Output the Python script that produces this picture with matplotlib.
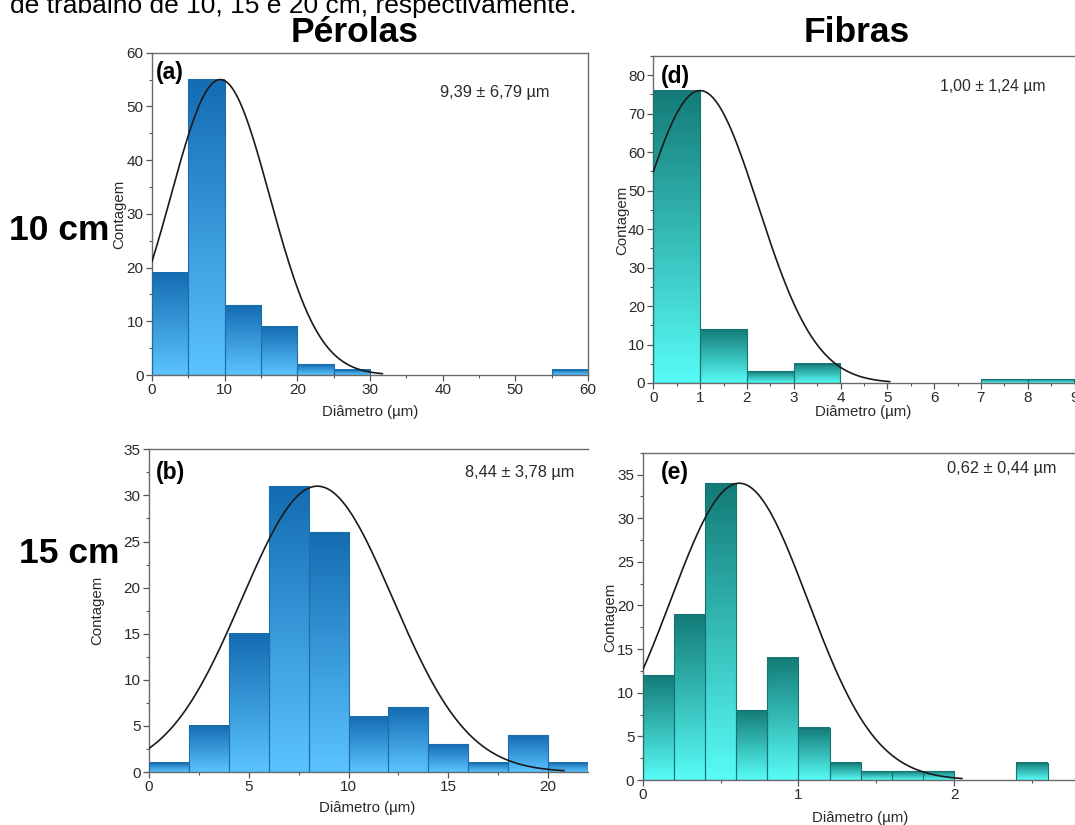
import numpy as np
import matplotlib
matplotlib.use("Agg")
import matplotlib.pyplot as plt
from matplotlib.ticker import MultipleLocator
from matplotlib.colors import to_rgb

plt.rcParams['font.family'] = ['Liberation Sans', 'DejaVu Sans']

W, H = 1075, 825

# ---------------- data ----------------
# (a) Pérolas 10 cm
a_bin_left = [0, 5, 10, 15, 20, 25, 30, 35, 40, 45, 50, 55]
a_counts = [19, 55, 13, 9, 2, 1, 0, 0, 0, 0, 0, 1]
a_width = 5
a_mean, a_sd, a_peak, a_curve_end = 9.39, 6.79, 55, 31.7
a_text = "9,39 ± 6,79 µm"

# (d) Fibras 10 cm
d_bin_left = [0, 1, 2, 3, 4, 5, 6, 7, 8]
d_counts = [76, 14, 3, 5, 0, 0, 0, 1, 1]
d_width = 1
d_mean, d_sd, d_peak, d_curve_end = 1.00, 1.24, 76, 5.05
d_text = "1,00 ± 1,24 µm"

# (b) Pérolas 15 cm
b_bin_left = [0, 2, 4, 6, 8, 10, 12, 14, 16, 18, 20]
b_counts = [1, 5, 15, 31, 26, 6, 7, 3, 1, 4, 1]
b_width = 2
b_mean, b_sd, b_peak, b_curve_end = 8.44, 3.78, 31, 20.8
b_text = "8,44 ± 3,78 µm"

# (e) Fibras 15 cm
e_bin_left = [0.0, 0.2, 0.4, 0.6, 0.8, 1.0, 1.2, 1.4, 1.6, 1.8, 2.0, 2.2, 2.4]
e_counts = [12, 19, 34, 8, 14, 6, 2, 1, 1, 1, 0, 0, 2]
e_width = 0.2
e_mean, e_sd, e_peak, e_curve_end = 0.62, 0.44, 34, 2.05
e_text = "0,62 ± 0,44 µm"

BLUE_TOP, BLUE_BOTTOM, BLUE_EDGE = "#146cb2", "#5bc4ff", "#1d6ea8"
TEAL_TOP, TEAL_BOTTOM, TEAL_EDGE = "#137b77", "#58fcf7", "#16736f"

fig = plt.figure(figsize=(W / 100, H / 100), dpi=100)


def px_ax(x0, y0, x1, y1):
    """axes from pixel box (top-left origin)"""
    return fig.add_axes([x0 / W, 1 - y1 / H, (x1 - x0) / W, (y1 - y0) / H])


def ftext(x, y, s, **kw):
    fig.text(x / W, 1 - y / H, s, **kw)


def draw_panel(ax, lefts, counts, width, top, bottom, edge, mean, sd, peak, cend,
               xlim, ylim, xmaj, xmin, ymaj, ymin, hide_right=False):
    t = np.linspace(0, 1, 256)[:, None]
    ct, cb = np.array(to_rgb(top)), np.array(to_rgb(bottom))
    grad = ct[None, :] * (1 - t) + cb[None, :] * t
    grad = grad[:, None, :]
    for x0, c in zip(lefts, counts):
        if c <= 0:
            continue
        ax.imshow(grad, extent=(x0, x0 + width, 0, c), origin='upper',
                  aspect='auto', interpolation='bilinear', zorder=2)
    lx = [l for l, c in zip(lefts, counts) if c > 0]
    lc = [c for c in counts if c > 0]
    ax.bar(lx, lc, width=width, align='edge', fill=False, edgecolor=edge,
           linewidth=0.8, zorder=3)
    xs = np.linspace(0, cend, 400)
    ax.plot(xs, peak * np.exp(-(xs - mean) ** 2 / (2 * sd ** 2)),
            color='#1a1a1a', lw=1.2, zorder=4)
    ax.set_xlim(*xlim)
    ax.set_ylim(*ylim)
    ax.xaxis.set_major_locator(MultipleLocator(xmaj))
    ax.xaxis.set_minor_locator(MultipleLocator(xmin))
    ax.yaxis.set_major_locator(MultipleLocator(ymaj))
    ax.yaxis.set_minor_locator(MultipleLocator(ymin))
    ax.tick_params(which='major', direction='out', length=4, width=0.9,
                   color='#555555', labelsize=11, labelcolor='#2a2a2a', pad=2)
    ax.tick_params(which='minor', direction='out', length=2, width=0.8,
                   color='#555555')
    for s in ax.spines.values():
        s.set_color('#6a6a6a')
        s.set_linewidth(1.0)
    if hide_right:
        ax.spines['right'].set_visible(False)


# (a)
ax_a = px_ax(152, 52.7, 588, 375)
draw_panel(ax_a, a_bin_left, a_counts, a_width, BLUE_TOP, BLUE_BOTTOM, BLUE_EDGE,
           a_mean, a_sd, a_peak, a_curve_end, (0, 60), (0, 60), 10, 5, 10, 5)
# (d)
ax_d = px_ax(653.3, 56, 653.3 + 46.8 * 9.3, 383)
draw_panel(ax_d, d_bin_left, d_counts, d_width, TEAL_TOP, TEAL_BOTTOM, TEAL_EDGE,
           d_mean, d_sd, d_peak, d_curve_end, (0, 9.3), (0, 85), 1, 0.5, 10, 5,
           hide_right=True)
# (b)
ax_b = px_ax(149, 449.3, 149 + 19.95 * 22, 772)
draw_panel(ax_b, b_bin_left, b_counts, b_width, BLUE_TOP, BLUE_BOTTOM, BLUE_EDGE,
           b_mean, b_sd, b_peak, b_curve_end, (0, 22), (0, 35), 5, 2.5, 5, 2.5,
           hide_right=True)
# (e)
ax_e = px_ax(642.7, 452.7, 642.7 + 155.7 * 2.85, 780)
draw_panel(ax_e, e_bin_left, e_counts, e_width, TEAL_TOP, TEAL_BOTTOM, TEAL_EDGE,
           e_mean, e_sd, e_peak, e_curve_end, (0, 2.85), (0, 37.5), 1, 0.5, 5, 2.5,
           hide_right=True)

lab_kw = dict(fontsize=10.8, color='#2a2a2a', ha='center', va='center')
# y labels
ftext(119, 214, "Contagem", rotation=90, **lab_kw)
ftext(622, 220, "Contagem", rotation=90, **lab_kw)
ftext(97, 610, "Contagem", rotation=90, **lab_kw)
ftext(610, 617, "Contagem", rotation=90, **lab_kw)
# x labels
ftext(370, 412, "Diâmetro (µm)", **lab_kw)
ftext(863, 412, "Diâmetro (µm)", **lab_kw)
ftext(367, 808, "Diâmetro (µm)", **lab_kw)
ftext(860, 818, "Diâmetro (µm)", **lab_kw)

# panel letters
pk = dict(fontsize=16.5, fontweight='bold', color='black', ha='left', va='center')
ftext(156, 72, "(a)", **pk)
ftext(661, 76, "(d)", **pk)
ftext(156, 473, "(b)", **pk)
ftext(661, 473, "(e)", **pk)

# stats
sk = dict(fontsize=11.8, color='#2a2a2a', ha='center', va='center')
ftext(495, 93, a_text, **sk)
ftext(993, 87, d_text, fontsize=11.3, color='#2a2a2a', ha='center', va='center')
ftext(520, 472, b_text, **sk)
ftext(1002, 468, e_text, **sk)

# headers
hk = dict(fontsize=25.5, fontweight='bold', color='black', ha='center', va='baseline')
ftext(355, 42, "Pérolas", **hk)
ftext(857, 42, "Fibras", **hk)
rk = dict(fontsize=25.5, fontweight='bold', color='black', ha='left', va='baseline')
ftext(9, 240, "10 cm", **rk)
ftext(19, 563, "15 cm", **rk)

# cut caption line at the top
ftext(10, 13, "de trabalho de 10, 15 e 20 cm, respectivamente.",
      fontsize=19, color='black', ha='left', va='baseline')

fig.savefig("out.png", dpi=100)
